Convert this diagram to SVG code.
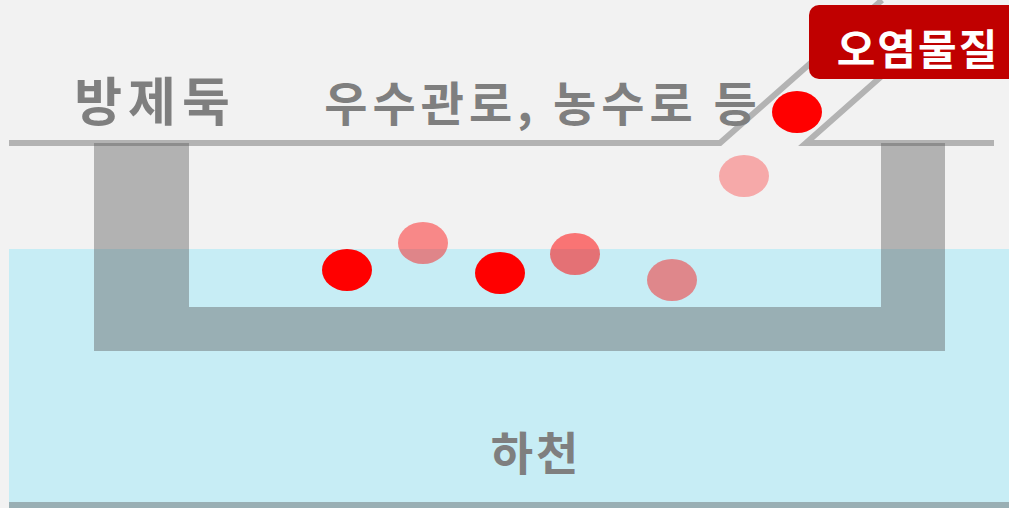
<svg xmlns="http://www.w3.org/2000/svg" width="1009" height="508" viewBox="0 0 1009 508">
<style>
.lbl{font-family:"Noto Sans CJK KR","Noto Sans",sans-serif;font-weight:bold;fill:#7F7F7F;text-anchor:middle;dominant-baseline:central}
.wall{fill:#585858;fill-opacity:0.41}
.edge{stroke:#B3B3B3;stroke-width:6;fill:none}
.dot{fill:#FF0000}
</style>
<rect x="0" y="0" width="1009" height="508" fill="#F2F2F2"/>
<g id="river">
<rect x="9" y="249" width="1000" height="259" fill="#C7EDF5"/>
<rect x="9" y="502" width="1000" height="6" class="wall"/>
</g>
<g id="connectors">
<polyline class="edge" points="9,143 720,143 882,0"/>
<polyline class="edge" points="994,143 806,143 884,74"/>
</g>
<g id="channel">
<path class="wall" d="M94,143 H189 V307 H881 V143 H945 V351 H94 Z"/>
</g>
<g id="pollutants">
<ellipse class="dot" cx="347" cy="270" rx="25" ry="21"/>
<ellipse class="dot" cx="423" cy="243" rx="25" ry="21" fill-opacity="0.44"/>
<ellipse class="dot" cx="500" cy="273" rx="25" ry="21"/>
<ellipse class="dot" cx="575" cy="254" rx="25" ry="21" fill-opacity="0.52"/>
<ellipse class="dot" cx="672" cy="280" rx="25" ry="21" fill-opacity="0.43"/>
<ellipse class="dot" cx="744" cy="176" rx="25" ry="21" fill-opacity="0.3"/>
<ellipse class="dot" cx="797" cy="112" rx="25" ry="21"/>
</g>
<g id="label-levee"><text class="lbl" x="155" y="98" font-size="52" letter-spacing="6">방제둑</text></g>
<g id="label-drain"><text class="lbl" x="543" y="100" font-size="47" letter-spacing="5">우수관로, 농수로 등</text></g>
<g id="label-river"><text class="lbl" x="536" y="450" font-size="46" letter-spacing="3">하천</text></g>
<g id="label-pollutant">
<rect x="809" y="5" width="215" height="74" rx="10" fill="#C00000"/>
<text class="lbl" x="918" y="46" font-size="42" letter-spacing="2" style="fill:#FFFFFF">오염물질</text>
</g>
</svg>
